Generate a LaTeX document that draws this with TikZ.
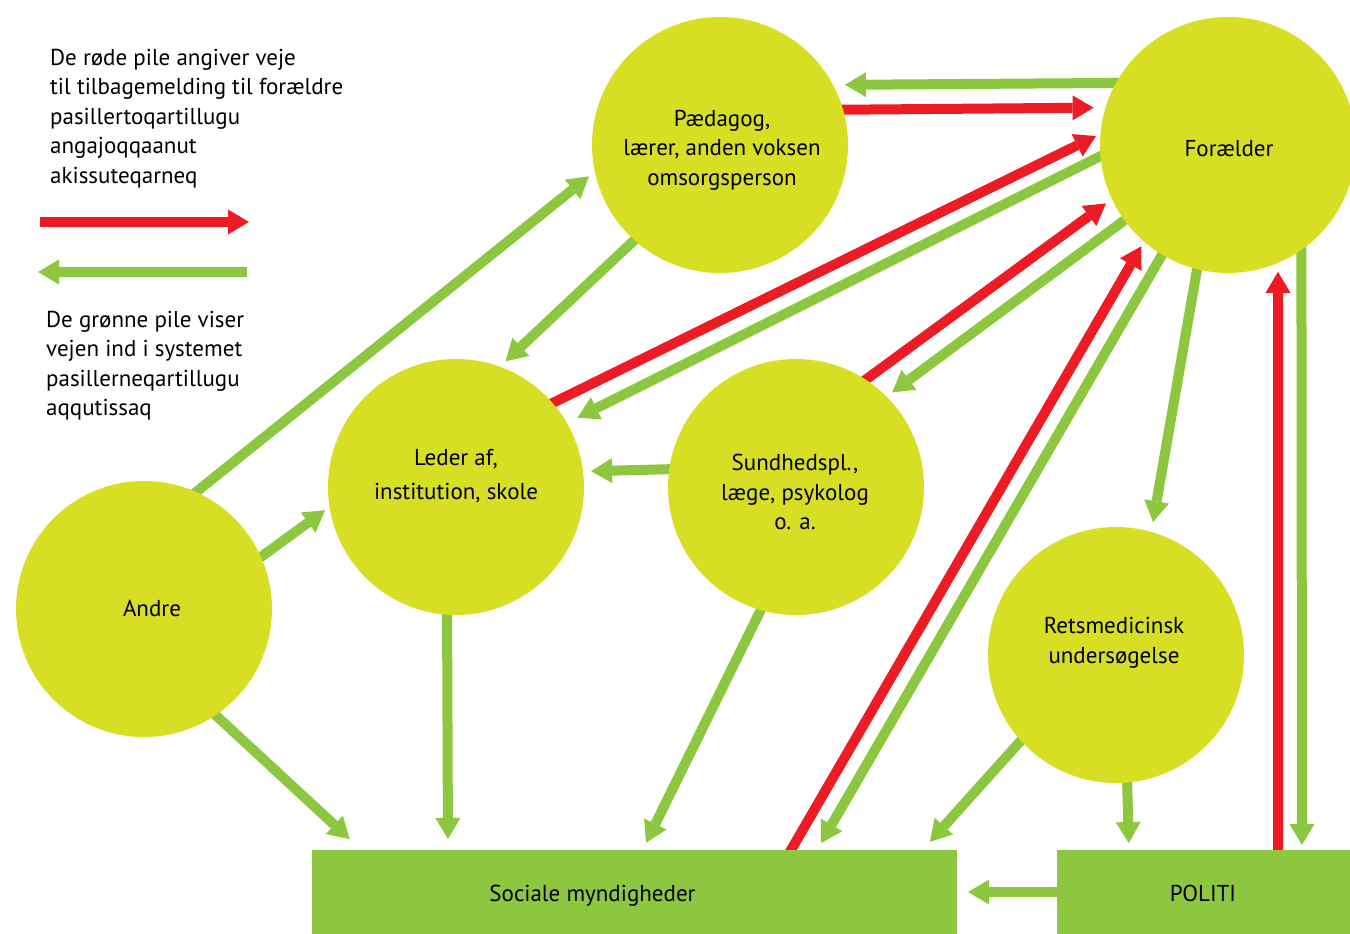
\documentclass[tikz,border=0pt]{standalone}
\usepackage{fontspec}
\setmainfont{PT Sans}
\usetikzlibrary{arrows.meta,backgrounds}
\definecolor{circfill}{RGB}{214,223,35}
\definecolor{arrgreen}{RGB}{141,198,63}
\definecolor{arrred}{RGB}{237,28,36}
\tikzstyle{circ} = [circle, fill=circfill, minimum size=256pt, inner sep=0pt, outer sep=0pt, align=center]
\tikzstyle{box} = [rectangle, fill=arrgreen, minimum height=84pt, inner sep=0pt, outer sep=0pt]
\tikzstyle{txt} = [inner sep=0pt, align=center]
\tikzstyle{legend} = [inner sep=0pt, align=left, anchor=north west]
\tikzstyle{garrow} = [draw=arrgreen, line width=10pt, shorten <=-8pt, -{Triangle[length=21pt,width=25pt,line width=0pt]}]
\tikzstyle{rarrow} = [draw=arrred, line width=10pt, shorten <=-8pt, -{Triangle[length=21pt,width=25pt,line width=0pt]}]

\begin{document}
\begin{tikzpicture}[x=1pt, y=-1pt, font=\fontsize{23}{29.5}\selectfont]
        \useasboundingbox (0,0) rectangle (1350,934);
        \node (paed) [circ] at (720,145) {};
        \node (fora) [circ] at (1228,145) {};
        \node (leder) [circ] at (456,487) {};
        \node (sund) [circ] at (796,487) {};
        \node (andre) [circ] at (144,609) {};
        \node (rets) [circ] at (1116,655) {};
        \node (soc) [box, minimum width=645pt] at (634.5,892) {};
        \node (pol) [box, minimum width=293pt] at (1203.5,892) {};
        \node (paedtxt) [txt] at (722,150) {Pædagog,\\lærer, anden voksen\\omsorgsperson};
        \node (foratxt) [txt, anchor=base] at (1229,156) {Forælder};
        \node (ledertxt) [txt] at (456,476) {Leder af,\\[4.5pt]institution, skole};
        \node (sundtxt) [txt] at (795,492) {Sundhedspl.,\\læge, psykolog\\o. a.};
        \node (andretxt) [txt, anchor=base] at (152,616) {Andre};
        \node (retstxt) [txt] at (1114,643) {Retsmedicinsk\\undersøgelse};
        \node (soctxt) [txt, anchor=base] at (592.5,901.5) {Sociale myndigheder};
        \node (poltxt) [txt, anchor=base] at (1203,901.5) {POLITI};
        \node (redtxt) [legend] at (50,49) {De røde pile angiver veje\\til tilbagemelding til forældre\\pasillertoqartillugu\\angajoqqaanut\\akissuteqarneq};
        \node (greentxt) [legend] at (46,311) {De grønne pile viser\\vejen ind i systemet\\pasillerneqartillugu\\aqqutissaq};
        \coordinate (redtail) at (40,222);
        \coordinate (redtip) at (249,222);
        \coordinate (greentail) at (247,272);
        \coordinate (greentip) at (38,272);
        \draw [rarrow, shorten <=0pt] (redtail) -- (redtip);
        \draw [garrow, shorten <=0pt] (greentail) -- (greentip);
        \begin{pgfonlayer}{background}
        \draw [garrow, shorten >=12pt] (fora.151.5) -- (paed.28.5);
        \draw [rarrow, shorten >=12pt] (paed.16.3) -- (fora.163.7);
        \draw [rarrow, shorten >=5pt] (leder.41.2) -- (fora.175);
        \draw [garrow, shorten >=12pt] (fora.185.3) -- (leder.30.4);
        \draw [rarrow, shorten >=7.5pt] (sund.57.9) -- (fora.205.2);
        \draw [garrow, shorten >=7pt] (fora.216.1) -- (sund.45.2);
        \draw [rarrow, shorten >=5.5pt] ([xshift=156.5pt]soc.north) -- (fora.229.4);
        \draw [garrow, shorten >=8pt] (fora.239.4) -- ([xshift=182.5pt]soc.north);
        \draw [garrow, shorten >=10pt] (fora.256) -- (rets.74.5);
        \draw [rarrow, shorten >=9pt] ([xshift=74.5pt]pol.north) -- (fora.293);
        \draw [garrow, shorten >=5pt] (fora.305.3) -- ([xshift=98.5pt]pol.north);
        \draw [garrow, shorten >=8pt] (paed.228.8) -- (leder.70.4);
        \draw [garrow, shorten >=7.5pt] (andre.66.3) -- (paed.192.3);
        \draw [garrow, shorten >=5.5pt] (andre.24.1) -- (leder.189.3);
        \draw [garrow, shorten >=8pt] (sund.172.8) -- (leder.7.2);
        \draw [garrow, shorten >=16pt] (andre.304.7) -- ([xshift=-273pt]soc.north);
        \draw [garrow, shorten >=11pt] (leder.266.4) -- ([xshift=-186.5pt]soc.north);
        \draw [garrow, shorten >=8pt] (sund.254.3) -- ([xshift=8pt]soc.north);
        \draw [garrow, shorten >=11pt] (rets.222) -- ([xshift=288pt]soc.north);
        \draw [garrow, shorten >=7pt] (rets.275.8) -- ([xshift=-74.5pt]pol.north);
        \draw [garrow, shorten >=11pt] (pol.west) -- (soc.east);
        \end{pgfonlayer}
    \end{tikzpicture}
\end{document}
